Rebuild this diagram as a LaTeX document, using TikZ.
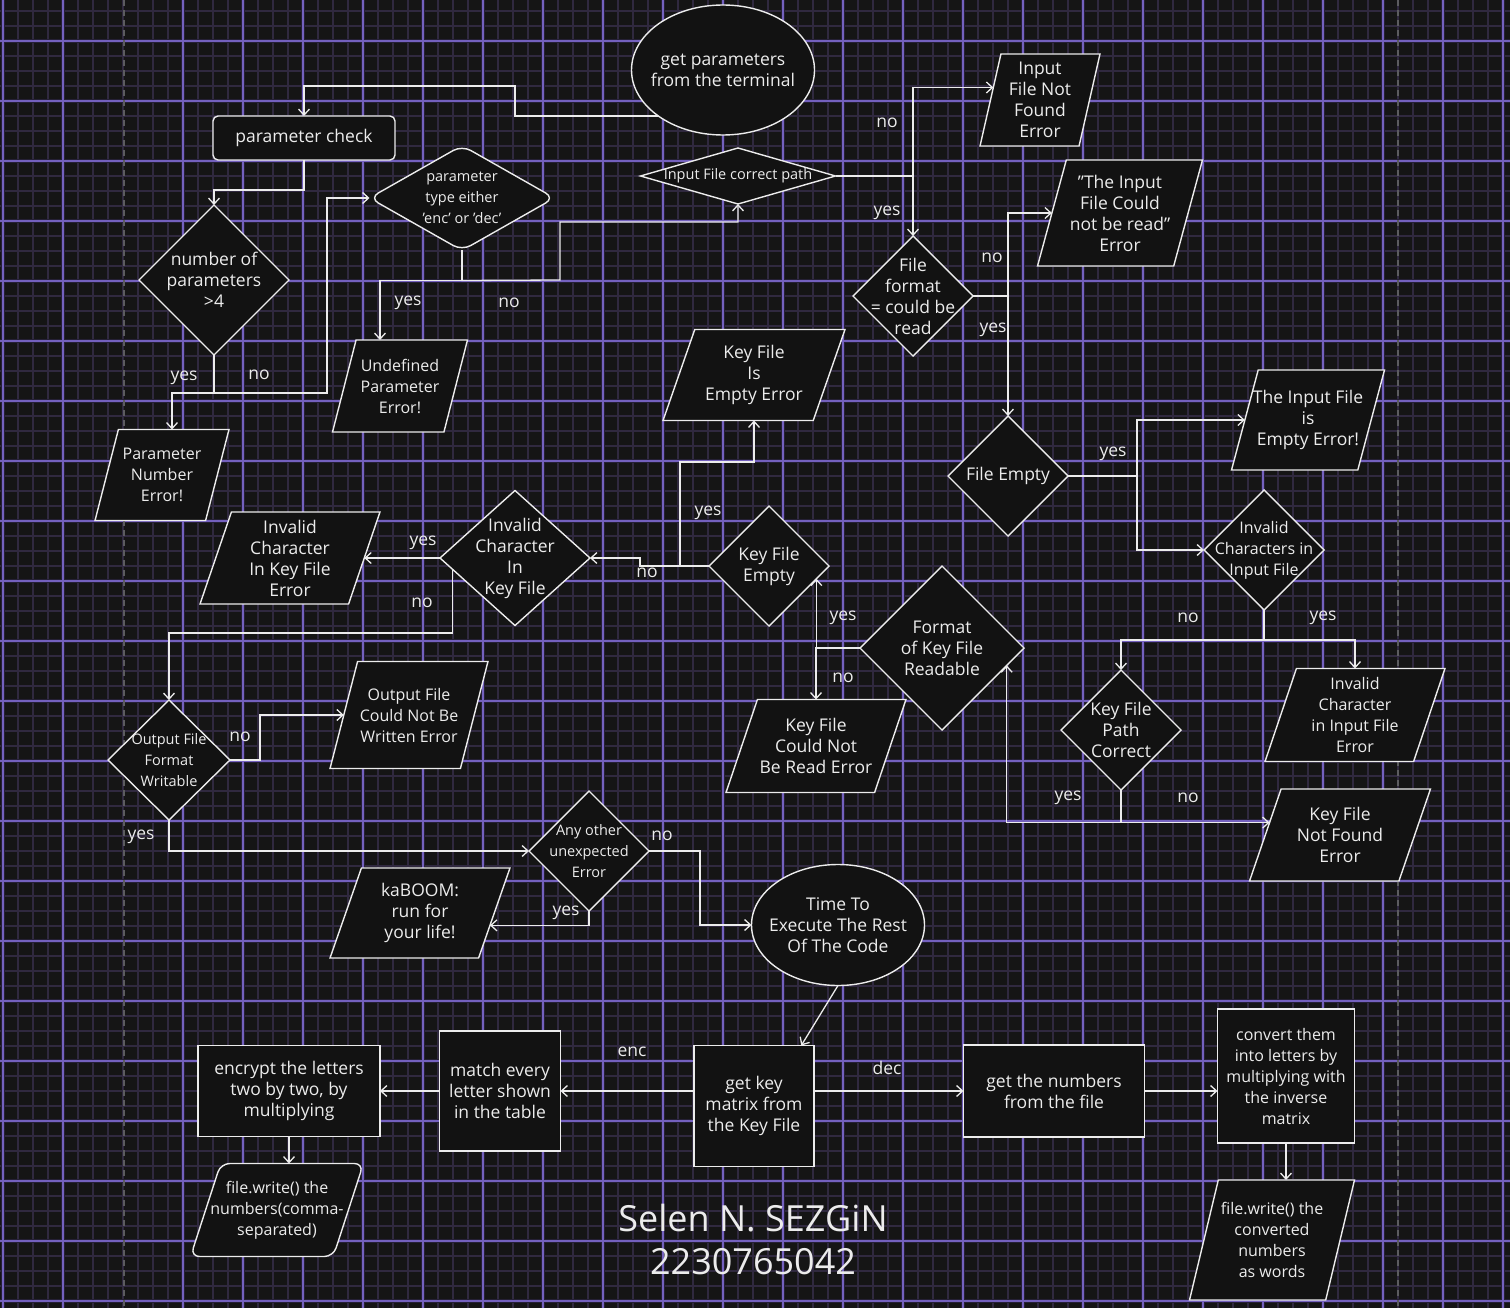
\documentclass[tikz,border=0pt]{standalone}
\usepackage{fontspec}
\setmainfont{Open Sans}
\usetikzlibrary{shapes.geometric,arrows.meta}
\definecolor{bgc}{HTML}{151515}
\definecolor{gridmin}{HTML}{30293F}
\definecolor{gridglow}{HTML}{252035}
\definecolor{gridmaj}{HTML}{7461BE}
\definecolor{ink}{HTML}{ECECEC}
\definecolor{nfill}{HTML}{121212}
\definecolor{dashc}{HTML}{5C5C60}
\newcommand\myfL{\fontsize{17.5}{21}\selectfont}
\newcommand\myfM{\fontsize{16}{21}\selectfont}
\newcommand\myfS{\fontsize{14.5}{21}\selectfont}
\newcommand\myfT{\fontsize{36}{44}\selectfont}
\begin{document}
\begin{tikzpicture}[x=1pt,y=-1pt,
  shp/.style={draw=ink, fill=nfill, line width=1.4pt, inner sep=0pt, outer sep=0pt},
  dia/.style 2 args={shp, diamond, minimum width=#1pt, minimum height=#2pt},
  para/.style 2 args={shp, trapezium, inner sep=2pt, trapezium left angle=75, trapezium right angle=105, trapezium stretches=true, minimum width=#1pt, minimum height=#2pt},
  box/.style 2 args={shp, rectangle, minimum width=#1pt, minimum height=#2pt},
  ell/.style 2 args={shp, ellipse, minimum width=#1pt, minimum height=#2pt},
  txt/.style={text=ink, align=center, inner sep=0pt, font=\myfL},
  lbl/.style={text=ink, inner sep=0pt, font=\myfL},
  conn/.style={draw=ink, line width=1.3pt, -{Straight Barb[length=6pt,width=11pt]}},
]
% background and grid
\fill[bgc] (0,0) rectangle (1510,1308);
\useasboundingbox (0,0) rectangle (1510,1308);
\foreach \x in {3,18,...,1509} \draw[gridmin, line width=1.5pt] (\x,0) -- (\x,1308);
\foreach \y in {11,26,...,1307} \draw[gridmin, line width=1.5pt] (0,\y) -- (1510,\y);
\foreach \x in {3,63,183,243,...,1503} \draw[gridglow, line width=4pt] (\x,0) -- (\x,1308);
\foreach \y in {41,101,...,1301} \draw[gridglow, line width=4pt] (0,\y) -- (1510,\y);
\foreach \x in {3,63,183,243,...,1503} \draw[gridmaj, line width=1.2pt] (\x,0) -- (\x,1308);
\foreach \y in {41,101,...,1301} \draw[gridmaj, line width=1.2pt] (0,\y) -- (1510,\y);
\draw[dashc, line width=1.6pt, dash pattern=on 6pt off 4pt] (124,0) -- (124,1308);
\draw[dashc, line width=1.6pt, dash pattern=on 6pt off 4pt] (1398,0) -- (1398,1308);

% shapes
\node[ell={183}{130}] (gp) at (723,70) {};
\node[txt] (tgp) at (gp) {get parameters\\from the terminal};
\node[shp, rounded corners=5pt, minimum width=182pt, minimum height=44pt] (pc) at (304,138) {};
\node[txt] (tpc) at (pc) {parameter check};
\node[dia={150}{150}] (np) at (214,280) {};
\node[txt] (tnp) at (np) {number of\\parameters\\>4};
\node[dia={185}{105}, rounded corners=10pt] (pt) at (462,198) {};
\node[txt, font=\myfS] (tpt) at (pt) {parameter\\type either\\'enc' or 'dec'};
\node[dia={195}{56}] (ip) at (738,176) {};
\node[txt, font=\myfS] (tip) at (ip) {Input File correct path};
\node[para={120}{92}] (nf) at (1040,100) {};
\node[txt] (tnf) at (nf) {Input\\File Not\\Found\\Error};
\node[para={165}{106}] (cr) at (1120,213) {};
\node[txt] (tcr) at (cr) {"The Input\\File Could\\not be read"\\Error};
\node[dia={120}{120}] (ff) at (913,296) {};
\node[txt] (tff) at (ff) {File\\format\\= could be\\read};
\node[para={134}{91}] (pn) at (162,475) {};
\node[txt, font=\myfM] (tpn) at (pn) {Parameter\\Number\\Error!};
\node[para={135}{92}] (up) at (400,386) {};
\node[txt, font=\myfM] (tup) at (up) {Undefined\\Parameter\\Error!};
\node[para={182}{91}] (ke) at (754,375) {};
\node[txt] (tke) at (ke) {Key File\\Is\\Empty Error};
\node[dia={120}{120}] (fe) at (1008,476) {};
\node[txt] (tfe) at (fe) {File Empty};
\node[para={153}{100}] (ie) at (1308,420) {};
\node[txt] (tie) at (ie) {The Input File\\is\\Empty Error!};
\node[dia={120}{120}] (ic) at (1264,550) {};
\node[txt, font=\myfM] (tic) at (ic) {Invalid\\Characters in\\Input File};
\node[dia={150}{135}] (kc) at (515,558) {};
\node[txt] (tkc) at (kc) {Invalid\\Character\\In\\Key File};
\node[para={180}{92}] (kce) at (290,558) {};
\node[txt] (tkce) at (kce) {Invalid\\Character\\In Key File\\Error};
\node[dia={120}{120}] (kfe) at (769,566) {};
\node[txt] (tkfe) at (kfe) {Key File\\Empty};
\node[dia={164}{164}] (fk) at (942,648) {};
\node[txt] (tfk) at (fk) {Format\\of Key File\\Readable};
\node[para={180}{93}] (kr) at (816,746) {};
\node[txt] (tkr) at (kr) {Key File\\Could Not\\Be Read Error};
\node[dia={120}{120}] (kp) at (1121,730) {};
\node[txt] (tkp) at (kp) {Key File\\Path\\Correct};
\node[para={180}{93}] (ice) at (1355,715) {};
\node[txt, font=\myfM] (tice) at (ice) {Invalid\\Character\\in Input File\\Error};
\node[para={181}{92}] (knf) at (1340,835) {};
\node[txt] (tknf) at (knf) {Key File\\Not Found\\Error};
\node[dia={122}{120}] (of) at (169,760) {};
\node[txt, font=\myfS] (tof) at (of) {Output File\\Format\\Writable};
\node[para={158}{107}] (ow) at (409,715) {};
\node[txt, font=\myfM] (tow) at (ow) {Output File\\Could Not Be\\Written Error};
\node[dia={120}{120}] (ao) at (589,851) {};
\node[txt, font=\myfS] (tao) at (ao) {Any other\\unexpected\\Error};
\node[para={180}{90}] (kb) at (420,913) {};
\node[txt] (tkb) at (kb) {kaBOOM:\\run for\\your life!};
\node[ell={173}{121}] (tt) at (838,925) {};
\node[txt] (ttt) at (tt) {Time To\\Execute The Rest\\Of The Code};
\node[box={120}{121}] (gk) at (754,1106) {};
\node[txt] (tgk) at (gk) {get key\\matrix from\\the Key File};
\node[box={121}{120}] (me) at (500,1091) {};
\node[txt] (tme) at (me) {match every\\letter shown\\in the table};
\node[box={182}{91}] (en) at (289,1091) {};
\node[txt] (ten) at (en) {encrypt the letters\\two by two, by\\multiplying};
\node[para={173}{93}, rounded corners=9pt] (fw1) at (277,1210) {};
\node[txt, font=\myfM] (tfw1) at (fw1) {file.write() the\\numbers(comma-\\separated)};
\node[box={181}{92}] (gn) at (1054,1091) {};
\node[txt] (tgn) at (gn) {get the numbers\\from the file};
\node[box={137}{134}] (cv) at (1286,1076) {};
\node[txt, font=\myfM] (tcv) at (cv) {convert them\\into letters by\\multiplying with\\the inverse\\matrix};
\node[para={165}{120}] (fw2) at (1272,1240) {};
\node[txt, font=\myfM] (tfw2) at (fw2) {file.write() the\\converted\\numbers\\as words};

\node[txt, font=\myfT] (title) at (753,1218) {Selen N. SEZGiN};
\node[txt, font=\myfT] (num) at (753,1262) {2230765042};

% connectors
\draw[conn] (gp.center) ++(-65,46) -- (515,116) -- (515,86) -| (pc.north);
\draw[conn] (pc.south) -- ++(0,30) -| (np.north);
\draw[conn] (np.south) -- ++(0,38) -| (pn.north -| 172,0);
\draw[conn] (np.south) -- ++(0,38) -- ++(113,0) |- (pt.west);
\draw[conn] (pt.south) -- ++(0,30) -| (up.north -| 380,0);
\draw[conn] (pt.south) -- ++(0,30) -- (560,280) -- (560,222) -| (ip.south);
\draw[conn] (ip.east) -| (ff.north);
\draw[conn] (ip.east) -- (ip.east -| ff.north) |- (nf.165);
\draw[conn] (ff.east) -| (fe.north);
\draw[conn] (ff.east) -- (ff.east -| fe.north) |- (cr.west);
\draw[conn] (fe.east) -- ++(69,0) |- (ie.west);
\draw[conn] (fe.east) -- ++(69,0) |- (ic.west);
\draw[conn] (ic.south) -- ++(0,30) -| (kp.north);
\draw[conn] (ic.south) -- ++(0,30) -| (ice.north);
\draw[conn] (kp.south) |- (knf.170);
\draw[conn] (kp.south |- knf.170) -| (fk.-15);
\draw[conn] (fk.west) -| (kfe.-15);
\draw[conn] (fk.west) -| (kr.north);
\draw[conn] (kfe.west) -- ++(-29,0) -- ++(0,-104) -| (ke.south);
\draw[conn] (kfe.west) -- ++(-69,0) |- (kc.east);
\draw[conn] (kc.west) -- (kce.east);
\draw[conn] (kc.190) |- (of.north |- 0,633) -- (of.north);
\draw[conn] (of.east) -- ++(30,0) |- (ow.west);
\draw[conn] (of.south) |- (ao.west);
\draw[conn] (ao.south) |- (kb.-10);
\draw[conn] (ao.east) -- ++(51,0) |- (tt.west);
\draw[conn] (tt.south) -- (gk.52);
\draw[conn] (gk.west |- me.east) -- (me.east);
\draw[conn] (gk.east |- gn.west) -- (gn.west);
\draw[conn] (me.west) -- (en.east);
\draw[conn] (en.south) -- (en.south |- fw1.north);
\draw[conn] (gn.east) -- (gn.east -| cv.west);
\draw[conn] (cv.south) -- (cv.south |- fw2.north);

% labels
\node[lbl] (l1) at (184,378) {yes};
\node[lbl] (l2) at (259,375) {no};
\node[lbl] (l3) at (408,303) {yes};
\node[lbl] (l4) at (509,303) {no};
\node[lbl] (l5) at (887,123) {no};
\node[lbl] (l6) at (887,213) {yes};
\node[lbl] (l7) at (992,258) {no};
\node[lbl] (l8) at (993,330) {yes};
\node[lbl] (l9) at (1113,454) {yes};
\node[lbl] (l10) at (1188,618) {no};
\node[lbl] (l11) at (1323,618) {yes};
\node[lbl] (l12) at (1068,798) {yes};
\node[lbl] (l13) at (1188,798) {no};
\node[lbl] (l14) at (843,618) {yes};
\node[lbl] (l15) at (843,678) {no};
\node[lbl] (l16) at (708,513) {yes};
\node[lbl] (l17) at (647,573) {no};
\node[lbl] (l18) at (423,543) {yes};
\node[lbl] (l19) at (422,603) {no};
\node[lbl] (l20) at (240,737) {no};
\node[lbl] (l21) at (141,837) {yes};
\node[lbl] (l22) at (566,913) {yes};
\node[lbl] (l23) at (662,836) {no};
\node[lbl] (l24) at (632,1052) {enc};
\node[lbl] (l25) at (887,1068) {dec};
\end{tikzpicture}
\end{document}
